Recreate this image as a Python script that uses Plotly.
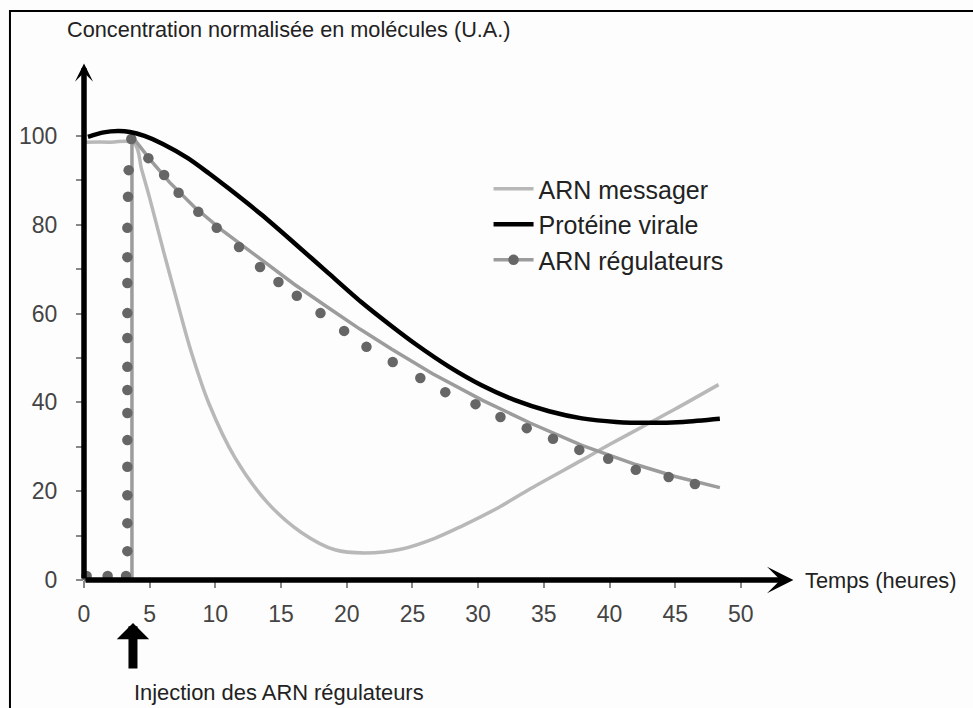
import plotly.graph_objects as go

# ---------------- data ----------------
messager_x = [0.0, 2.0, 3.8, 4.4, 5.0, 6.1, 7.2, 8.2, 9.5, 11.5, 14.0, 16.6,
              19.1, 21.4, 24.2, 26.7, 28.8, 31.6, 34.0, 37.9, 40.0, 43.0, 45.0, 48.3]
messager_y = [98.6, 98.6, 98.4, 92.3, 86.0, 73.5, 61.5, 51.0, 39.8, 27.5, 17.3, 10.6,
              6.8, 6.1, 7.0, 9.4, 12.2, 16.4, 20.6, 27.0, 30.5, 35.3, 38.5, 44.0]

proteine_x = [0.3, 1.5, 2.6, 3.5, 4.6, 6.0, 7.9, 9.5, 11.0, 13.5, 16.0, 18.6, 21.1, 23.4,
              25.2, 27.8, 30.3, 32.8, 35.4, 37.9, 40.5, 43.0, 45.6, 48.4]
proteine_y = [99.8, 100.8, 101.1, 100.9, 100.0, 98.2, 95.0, 91.6, 88.2, 82.3, 75.9, 69.1, 62.6, 57.2,
              53.2, 48.0, 43.8, 40.5, 38.0, 36.4, 35.6, 35.4, 35.6, 36.3]

regul_line_x = [3.65, 3.65, 3.9, 5.0, 6.5, 8.4, 10.5, 13.5, 16.0, 18.6, 21.0, 23.4, 26.5,
                30.3, 34.0, 37.9, 42.0, 45.0, 48.4]
regul_line_y = [0.0, 98.0, 99.0, 94.8, 89.6, 84.0, 78.8, 72.2, 66.6, 61.3, 56.5, 52.0, 46.5,
                40.5, 35.3, 30.3, 26.0, 23.3, 20.8]

regul_dots_x = [0.2, 1.8, 3.2, 3.3, 3.3, 3.3, 3.3, 3.3, 3.3, 3.3, 3.3, 3.3, 3.3, 3.3, 3.3,
                3.3, 3.35, 3.4, 3.6, 4.9, 6.1, 7.2, 8.7, 10.1, 11.8, 13.4, 14.8, 16.2, 18.0,
                19.8, 21.5, 23.5, 25.6, 27.5, 29.8, 31.7, 33.7, 35.7, 37.7, 39.9, 42.0, 44.5, 46.5]
regul_dots_y = [0.9, 0.9, 0.9, 6.5, 12.8, 19.1, 25.5, 31.5, 37.6, 42.8, 48.0, 54.5, 60.1, 66.9, 72.7,
                79.3, 86.3, 92.3, 99.3, 95.0, 91.2, 87.2, 82.9, 79.3, 75.0, 70.5, 67.1, 64.0, 60.1,
                56.1, 52.5, 49.1, 45.5, 42.3, 39.6, 36.7, 34.2, 31.8, 29.3, 27.3, 24.8, 23.2, 21.6]

x_ticks = [0, 5, 10, 15, 20, 25, 30, 35, 40, 45, 50]
y_ticks = [0, 20, 40, 60, 80, 100]
y_minor = [10, 30, 50, 70, 90]

names = ["ARN messager", "Protéine virale", "ARN régulateurs"]

FONT = "Liberation Sans, Arial, Helvetica, sans-serif"

fig = go.Figure()

fig.add_trace(go.Scatter(
    x=messager_x, y=messager_y, mode="lines", name=names[0],
    line=dict(color="#b8b8b8", width=3.5, shape="spline", smoothing=1.0),
    legendrank=1, cliponaxis=False))

fig.add_trace(go.Scatter(
    x=regul_line_x, y=regul_line_y, mode="lines", name=names[2],
    line=dict(color="#9c9c9c", width=3.5), showlegend=False, cliponaxis=False))

fig.add_trace(go.Scatter(
    x=regul_dots_x, y=regul_dots_y, mode="markers", name=names[2],
    marker=dict(color="#666666", size=10.5), showlegend=False, cliponaxis=False))

fig.add_trace(go.Scatter(
    x=proteine_x, y=proteine_y, mode="lines", name=names[1],
    line=dict(color="#000000", width=4.5, shape="spline", smoothing=0.8),
    legendrank=2, cliponaxis=False))

# legend entry for the regulator RNA (dots + grey line)
fig.add_trace(go.Scatter(
    x=[None], y=[None], mode="lines+markers", name=names[2],
    line=dict(color="#9c9c9c", width=3.5),
    marker=dict(color="#666666", size=10.5), legendrank=3))

# axes with arrow heads
fig.add_annotation(x=0, y=116.3, ax=0, ay=0, xref="x", yref="y", axref="x", ayref="y",
                   text="", showarrow=True, arrowhead=3, arrowsize=0.55, arrowwidth=5.5,
                   arrowcolor="black")
fig.add_annotation(x=54.0, y=0, ax=0, ay=0, xref="x", yref="y", axref="x", ayref="y",
                   text="", showarrow=True, arrowhead=3, arrowsize=0.8, arrowwidth=5.5,
                   arrowcolor="black")

# injection arrow
fig.add_annotation(x=0.0684, y=-0.0827, ax=0, ay=47, xref="paper", yref="paper",
                   text="", showarrow=True, arrowhead=1, arrowsize=0.6, arrowwidth=9,
                   arrowcolor="black")

fig.add_annotation(x=-0.0265, y=1.0596, xref="paper", yref="paper",
                   text="Concentration normalisée en molécules (U.A.)",
                   showarrow=False, xanchor="left", yanchor="middle",
                   font=dict(family=FONT, size=21.7, color="#222222"))
fig.add_annotation(x=1.004, y=0.0, xref="paper", yref="paper", text="Temps (heures)",
                   showarrow=False, xanchor="left", yanchor="middle",
                   font=dict(family=FONT, size=21.8, color="#222222"))
fig.add_annotation(x=0.067, y=-0.217, xref="paper", yref="paper",
                   text="Injection des ARN régulateurs",
                   showarrow=False, xanchor="left", yanchor="middle",
                   font=dict(family=FONT, size=21.9, color="#222222"))

# frame
fig.add_shape(type="rect", xref="paper", yref="paper",
              x0=-0.1034, x1=1.4, y0=-0.4, y1=1.094,
              line=dict(color="black", width=2), fillcolor="rgba(0,0,0,0)")

fig.update_xaxes(range=[0, 54.5], tickvals=x_ticks, ticks="outside", ticklen=7, tickwidth=1.5,
                 tickcolor="#888888", showgrid=False, zeroline=False, showline=False,
                 tickfont=dict(family=FONT, size=23, color="#444444"), ticklabelstandoff=6)
fig.update_yaxes(range=[0, 117.1], tickvals=y_ticks, ticks="outside", ticklen=7, tickwidth=1.5,
                 tickcolor="#888888", showgrid=False, zeroline=False, showline=False,
                 tickfont=dict(family=FONT, size=23, color="#444444"), ticklabelstandoff=14,
                 minor=dict(tickvals=y_minor, ticks="outside", ticklen=7, tickwidth=1.5,
                            tickcolor="#888888"))

fig.update_layout(
    width=973, height=708,
    margin=dict(l=84, r=173, t=60, b=128),
    paper_bgcolor="#fdfdfd", plot_bgcolor="#fdfdfd",
    showlegend=True,
    legend=dict(x=0.565, y=0.796, xanchor="left", yanchor="top",
                bgcolor="rgba(0,0,0,0)", font=dict(family=FONT, size=25, color="#222222"),
                itemwidth=40),
)

fig.write_html(
    "out.html",
    config={"displayModeBar": False},
    post_script="document.body.style.margin='0';document.body.style.overflow='hidden';",
)
